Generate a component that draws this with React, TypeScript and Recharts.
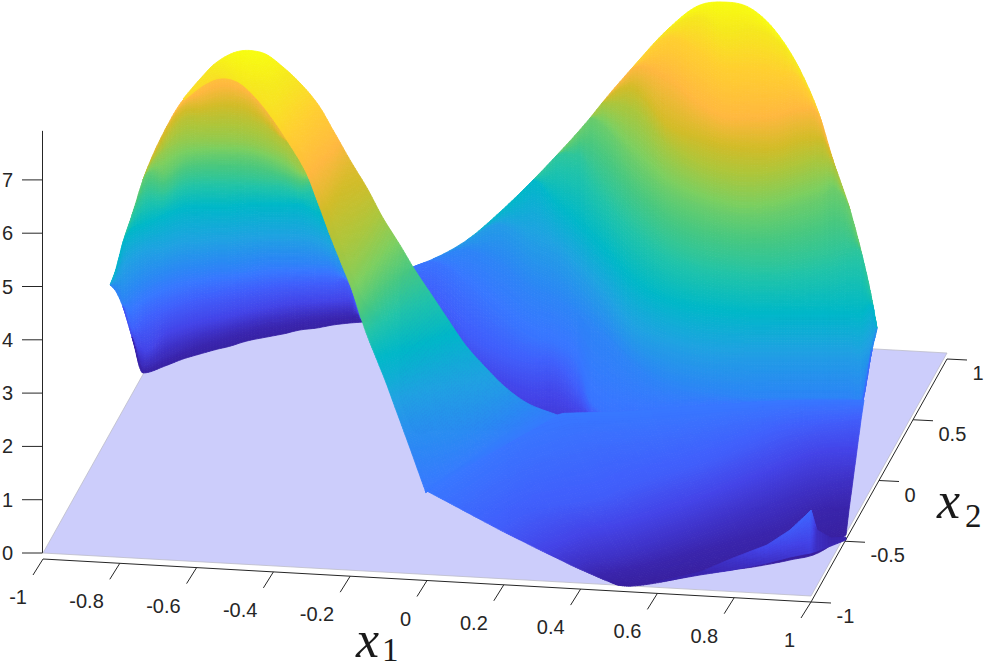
import React from 'react';
import { ScatterChart, Scatter, XAxis, YAxis, ReferenceLine } from 'recharts';

// ---------- axis ticks ----------
const x1Ticks = [-1, -0.8, -0.6, -0.4, -0.2, 0, 0.2, 0.4, 0.6, 0.8, 1];
const x2Ticks = [-1, -0.5, 0, 0.5, 1];
const zTicks = [0, 1, 2, 3, 4, 5, 6, 7];
const zTop = 7.92;

// ---------- colormap ----------
const colorStops = [0, 0.05, 0.1, 0.17, 0.25, 0.31, 0.36, 0.44, 0.53, 0.6, 0.66, 0.72, 0.78, 0.83, 0.88, 0.93, 0.97, 1];
const colorValues = ['#38209f', '#3a25ad', '#3e30c4', '#4444e8', '#4060fc', '#3878ff', '#2b88f4', '#20a2e2', '#00b8c8', '#22c4a8', '#48c880', '#7ccf60', '#acc63c', '#d2bc28', '#ffb840', '#ffd030', '#f6e81e', '#f8fc10'];

// ---------- left lobe, inner face: contour heights per column ----------
const lobeX = [110, 115, 123, 132, 143, 165, 183, 200, 218, 227, 247, 267, 283, 300, 317, 333, 350, 363, 380];
const lobeTop = [285, 272, 242, 215, 180, 130, 100, 87, 78, 78, 86, 104, 125, 150, 185, 225, 270, 300, 315];
const lobeBottom = [285, 290, 307, 337, 373, 366, 359, 354, 349, 347, 341, 337, 334, 330, 328, 325, 323, 322, 321];
const lobeLevels = [0.9, 0.85, 0.8, 0.75, 0.69, 0.63, 0.53, 0.44, 0.34, 0.25, 0.17, 0.07, 0.02];
const lobeIso = [
  [0, 0, 0, 0, 0, 0, 107, 103, 98, 97, 101, 118, 138, 0, 0, 0, 0, 0, 0],
  [0, 0, 0, 0, 0, 140, 120, 118, 117, 117, 120, 128, 140, 0, 0, 0, 0, 0, 0],
  [0, 0, 0, 0, 0, 152, 142, 140, 140, 140, 142, 148, 155, 170, 0, 0, 0, 0, 0],
  [0, 0, 0, 0, 0, 175, 162, 158, 157, 157, 158, 163, 170, 178, 0, 0, 0, 0, 0],
  [0, 0, 0, 0, 195, 192, 180, 177, 177, 177, 178, 180, 182, 188, 0, 0, 0, 0, 0],
  [0, 0, 0, 230, 225, 215, 208, 207, 207, 207, 205, 205, 205, 205, 213, 0, 0, 0, 0],
  [0, 280, 265, 258, 252, 248, 243, 242, 240, 240, 238, 237, 237, 237, 240, 250, 0, 0, 0],
  [0, 999, 305, 298, 290, 280, 275, 273, 270, 270, 268, 265, 265, 265, 266, 268, 283, 0, 0],
  [999, 999, 999, 330, 322, 310, 303, 298, 295, 293, 290, 287, 285, 284, 283, 283, 285, 999, 999],
  [999, 999, 999, 999, 350, 335, 328, 323, 319, 317, 312, 308, 305, 303, 302, 301, 300, 999, 999],
  [999, 999, 999, 999, 368, 358, 350, 343, 338, 335, 330, 325, 323, 320, 318, 316, 315, 315, 315],
];

// ---------- rear sheet with the right peak ----------
const rearX = [400, 413, 433, 467, 500, 533, 556, 578, 590, 602, 633, 667, 700, 723, 750, 777, 800, 820, 833, 850, 862, 872, 877];
const rearTop = [273, 267, 259, 240, 212, 180, 156, 132, 118, 103, 67, 30, 5, 2, 8, 33, 70, 117, 160, 210, 255, 300, 328];
const rearBottom = [400, 430, 430, 430, 430, 430, 430, 430, 428, 425, 420, 418, 415, 412, 410, 408, 407, 406, 405, 405, 404, 350, 329];
const rearLevels = [1, 0.97, 0.93, 0.88, 0.83, 0.78, 0.7, 0.62, 0.53, 0.42, 0.35, 0.3, 0.24, 0.18, 0.12, 0.08];
const rearIso = [
  [0, 0, 0, 0, 0, 0, 0, 0, 0, 0, 0, 0, 18, 32, 30, 40, 0, 0, 0, 0, 0, 0, 0],
  [0, 0, 0, 0, 0, 0, 0, 0, 0, 0, 0, 38, 52, 67, 68, 72, 80, 0, 0, 0, 0, 0, 0],
  [0, 0, 0, 0, 0, 0, 0, 0, 0, 0, 68, 78, 105, 117, 118, 116, 110, 118, 0, 0, 0, 0, 0],
  [0, 0, 0, 0, 0, 0, 0, 0, 0, 0, 88, 125, 138, 145, 148, 148, 140, 138, 0, 0, 0, 0, 0],
  [0, 0, 0, 0, 0, 0, 0, 0, 0, 0, 110, 145, 165, 172, 175, 172, 165, 160, 165, 0, 0, 0, 0],
  [0, 0, 0, 0, 0, 0, 0, 0, 0, 125, 160, 190, 205, 212, 215, 212, 205, 198, 190, 0, 0, 0, 0],
  [0, 0, 0, 0, 0, 0, 0, 155, 170, 185, 218, 245, 258, 262, 265, 265, 262, 258, 255, 250, 0, 0, 0],
  [0, 0, 0, 0, 0, 0, 203, 222, 235, 247, 280, 300, 308, 311, 313, 313, 313, 313, 313, 313, 313, 305, 0],
  [0, 0, 0, 0, 225, 245, 255, 275, 287, 300, 335, 350, 358, 360, 360, 360, 360, 360, 360, 360, 360, 345, 0],
  [0, 0, 0, 250, 265, 290, 300, 315, 325, 335, 365, 385, 392, 395, 398, 398, 398, 398, 398, 398, 397, 350, 329],
  [0, 0, 262, 285, 315, 338, 345, 365, 400, 412, 414, 412, 408, 406, 404, 403, 403, 403, 403, 403, 403, 350, 329],
  [0, 285, 300, 335, 355, 365, 368, 392, 412, 416, 999, 999, 999, 999, 999, 999, 999, 999, 999, 999, 999, 999, 999],
  [300, 310, 320, 360, 380, 392, 392, 408, 416, 418, 999, 999, 999, 999, 999, 999, 999, 999, 999, 999, 999, 999, 999],
  [330, 335, 340, 400, 420, 428, 430, 425, 424, 422, 999, 999, 999, 999, 999, 999, 999, 999, 999, 999, 999, 999, 999],
];

// ---------- lower front of the surface: six contours along its length ----------
const frontLevels = [0.31, 0.24, 0.17, 0.1, 0.04, 0];
const frontRowsX = [
  [425, 470, 510, 540, 557, 573, 620, 680, 740, 800, 864],
  [500, 525, 550, 575, 600, 620, 650, 700, 750, 800, 861],
  [540, 565, 585, 605, 620, 650, 680, 720, 770, 820, 857],
  [575, 590, 605, 620, 635, 660, 690, 730, 770, 815, 853],
  [600, 610, 620, 635, 650, 680, 710, 745, 780, 825, 849],
  [617, 625, 633, 650, 667, 700, 730, 753, 790, 820, 846],
];
const frontRowsY = [
  [490, 460, 432, 420, 415, 413, 412, 408, 404, 400, 400],
  [530, 515, 508, 503, 498, 490, 480, 465, 445, 428, 420],
  [550, 540, 532, 528, 524, 515, 505, 490, 470, 452, 450],
  [567, 562, 560, 557, 553, 545, 535, 520, 505, 488, 480],
  [578, 576, 574, 571, 568, 560, 552, 543, 533, 513, 510],
  [585, 586, 586, 584, 581, 574, 570, 567, 560, 552, 535],
];

// ---------- ridge band from the left peak: outer edge and inner edge ----------
const ridgeOuterX = [183, 200, 217, 240, 263, 283, 300, 317, 333, 350, 367, 383, 400, 413, 433, 447, 467, 485, 505, 527, 557];
const ridgeOuterY = [99, 79, 62, 51, 53, 67, 83, 103, 130, 160, 188, 218, 245, 267, 297, 318, 347, 367, 387, 403, 415];
const ridgeOuterC = [0.95, 0.96, 0.98, 1, 1, 0.98, 0.96, 0.93, 0.9, 0.85, 0.82, 0.77, 0.71, 0.66, 0.6, 0.56, 0.5, 0.46, 0.42, 0.37, 0.32];
const ridgeInnerX = [184, 205, 222, 240, 258, 275, 290, 305, 317, 330, 342, 352, 360, 367, 377, 385, 396, 407, 416, 425, 425];
const ridgeInnerY = [100, 84, 78, 83, 100, 122, 145, 170, 200, 235, 265, 290, 315, 335, 360, 380, 410, 440, 465, 490, 490];
const ridgeInnerC = [0.94, 0.95, 0.96, 0.97, 0.96, 0.95, 0.92, 0.89, 0.85, 0.8, 0.76, 0.72, 0.66, 0.6, 0.53, 0.49, 0.42, 0.37, 0.34, 0.31, 0.31];

// ---------- small wedge at the lower right ----------
const wedgeX = [660, 700, 733, 767, 790, 805, 811, 817, 831, 846];
const wedgeTop = [581, 572, 558, 545, 530, 516, 510, 530, 538, 537];
const wedgeBottom = [582, 575, 570, 563, 557, 554, 553, 551, 546, 540];
const wedgeTopC = [0.03, 0.06, 0.12, 0.19, 0.24, 0.26, 0.27, 0.1, 0.05, 0.05];
const wedgeBottomC = [0.04, 0.05, 0.08, 0.1, 0.12, 0.13, 0.14, 0.1, 0.06, 0.05];

// ---------- mesh helpers ----------
type Mesh = { xs: number[][]; ys: number[][]; cs: number[][]; s: number[]; smooth: boolean; monotone: boolean };

function chord(xs: number[], ys: number[]) {
  const s = [0];
  for (let i = 1; i < xs.length; i++) s.push(s[i - 1] + Math.max(0.5, Math.hypot(xs[i] - xs[i - 1], ys[i] - ys[i - 1])));
  return s;
}

function isoMesh(xs: number[], top: number[], bottom: number[], levels: number[], iso: number[][]): Mesh {
  const rows = [top, ...iso.map((r) => r.map((v, j) => (v === 0 ? top[j] : v === 999 ? bottom[j] : v))), bottom];
  return {
    xs: rows.map(() => xs),
    ys: rows,
    cs: rows.map((_, r) => xs.map(() => levels[r])),
    s: xs,
    smooth: true,
    monotone: true,
  };
}

const lobeMesh = isoMesh(lobeX, lobeTop, lobeBottom, lobeLevels, lobeIso);
const rearMesh = isoMesh(rearX, rearTop, rearBottom, rearLevels, rearIso);
const frontMesh: Mesh = {
  xs: frontRowsX,
  ys: frontRowsY,
  cs: frontLevels.map((c) => frontRowsX[0].map(() => c)),
  s: chord(frontRowsX[2], frontRowsY[2]),
  smooth: true,
  monotone: false,
};
const ridgeMesh: Mesh = {
  xs: [ridgeOuterX, ridgeInnerX],
  ys: [ridgeOuterY, ridgeInnerY],
  cs: [ridgeOuterC, ridgeInnerC],
  s: chord(ridgeOuterX, ridgeOuterY),
  smooth: true,
  monotone: false,
};
const wedgeMesh: Mesh = {
  xs: [wedgeX, wedgeX],
  ys: [wedgeTop, wedgeBottom],
  cs: [wedgeTopC, wedgeBottomC],
  s: wedgeX,
  smooth: false,
  monotone: false,
};

function slope(d0: number, d1: number, h0: number, h1: number) {
  if (d0 * d1 < 0 && Math.max(Math.abs(d0), Math.abs(d1)) > 1.2) return 0;
  return (h1 * d0 + h0 * d1) / (h0 + h1);
}

function spline(a: number[], s: number[], u: number, smooth: boolean) {
  const n = a.length;
  const i = Math.min(n - 2, Math.max(0, Math.floor(u)));
  const t = u - i;
  if (!smooth) return a[i] + (a[i + 1] - a[i]) * t;
  const h = s[i + 1] - s[i];
  const d = (a[i + 1] - a[i]) / h;
  const m1 = i > 0 ? slope((a[i] - a[i - 1]) / (s[i] - s[i - 1]), d, s[i] - s[i - 1], h) : d;
  const m2 = i < n - 2 ? slope(d, (a[i + 2] - a[i + 1]) / (s[i + 2] - s[i + 1]), h, s[i + 2] - s[i + 1]) : d;
  const t2 = t * t;
  const t3 = t2 * t;
  return (2 * t3 - 3 * t2 + 1) * a[i] + (t3 - 2 * t2 + t) * h * m1 + (-2 * t3 + 3 * t2) * a[i + 1] + (t3 - t2) * h * m2;
}

function columnAt(m: Mesh, u: number) {
  const x = m.xs.map((r) => spline(r, m.s, u, m.smooth));
  const y = m.ys.map((r) => spline(r, m.s, u, m.smooth));
  const c = m.cs.map((r) => spline(r, m.s, u, m.smooth));
  if (m.monotone) {
    const last = y[y.length - 1];
    let hi = y[0];
    for (let k = 0; k < y.length; k++) {
      hi = Math.max(hi, y[k]);
      y[k] = Math.min(hi, Math.max(last, y[0]));
    }
  }
  return { x, y, c };
}

function hexToRgb(h: string) {
  return [parseInt(h.slice(1, 3), 16), parseInt(h.slice(3, 5), 16), parseInt(h.slice(5, 7), 16)];
}
const colorRgb = colorValues.map(hexToRgb);
function colorOf(c: number) {
  const v = Math.max(0, Math.min(1, c));
  let i = 0;
  while (i < colorStops.length - 2 && v > colorStops[i + 1]) i++;
  const t = (v - colorStops[i]) / (colorStops[i + 1] - colorStops[i]);
  const a = colorRgb[i];
  const b = colorRgb[i + 1];
  return `rgb(${Math.round(a[0] + (b[0] - a[0]) * t)},${Math.round(a[1] + (b[1] - a[1]) * t)},${Math.round(a[2] + (b[2] - a[2]) * t)})`;
}

function meshCells(m: Mesh) {
  const out: any[] = [];
  for (let r = 0; r < m.ys.length - 1; r++) {
    for (let i = 0; i < m.xs[0].length - 1; i++) {
      out.push({ sx: m.xs[r][i], sy: m.ys[r][i], col: i, row: r });
    }
  }
  return out;
}

function meshShape(m: Mesh) {
  return (props: any) => {
    const { cx, cy, payload } = props;
    const dx = cx - payload.sx;
    const dy = cy - payload.sy;
    const { col, row } = payload;
    const extent = Math.max(
      Math.abs(m.xs[row][col + 1] - m.xs[row][col]),
      Math.abs(m.xs[row + 1][col + 1] - m.xs[row + 1][col]),
      Math.abs(m.ys[row][col + 1] - m.ys[row][col]),
      Math.abs(m.ys[row + 1][col + 1] - m.ys[row + 1][col]),
    );
    const nu = Math.max(1, Math.ceil(extent / 3));
    const cols = [];
    for (let k = 0; k <= nu; k++) cols.push(columnAt(m, col + k / nu));
    const paths: Record<string, string> = {};
    for (let k = 0; k < nu; k++) {
      const a = cols[k];
      const b = cols[k + 1];
      const h = Math.max(
        Math.hypot(a.x[row + 1] - a.x[row], a.y[row + 1] - a.y[row]),
        Math.hypot(b.x[row + 1] - b.x[row], b.y[row + 1] - b.y[row]),
      );
      if (h < 0.02) continue;
      const nv = Math.max(1, Math.ceil(h / 2.5));
      for (let j = 0; j < nv; j++) {
        const v0 = j / nv;
        const v1 = (j + 1) / nv;
        const mix = (arr: number[], v: number) => arr[row] + (arr[row + 1] - arr[row]) * v;
        const col0 = colorOf((mix(a.c, (v0 + v1) / 2) + mix(b.c, (v0 + v1) / 2)) / 2);
        const d = `M${(mix(a.x, v0) + dx).toFixed(1)} ${(mix(a.y, v0) + dy).toFixed(1)}L${(mix(b.x, v0) + dx).toFixed(1)} ${(mix(b.y, v0) + dy).toFixed(1)}L${(mix(b.x, v1) + dx).toFixed(1)} ${(mix(b.y, v1) + dy).toFixed(1)}L${(mix(a.x, v1) + dx).toFixed(1)} ${(mix(a.y, v1) + dy).toFixed(1)}Z`;
        paths[col0] = (paths[col0] || '') + d;
      }
    }
    return (
      <g>
        {Object.keys(paths).map((k) => (
          <path key={k} d={paths[k]} fill={k} stroke={k} strokeWidth={0.8} strokeLinejoin="round" />
        ))}
      </g>
    );
  };
}

// ---------- projection of the floor ----------
const project = (x1: number, x2: number) => {
  const u = (x1 + 1) / 2;
  const v = (x2 + 1) / 2;
  return { sx: 43 + 768 * u + 136 * v, sy: 553 + 43 * u - 243 * v };
};
const AXIS_DROP = 6;

const floorCorners = [project(-1, -1), project(1, -1), project(1, 1), project(-1, 1)];
const floorData = [{ ...floorCorners[0], corners: floorCorners }];
const FloorShape = (props: any) => {
  const { cx, cy, payload } = props;
  const dx = cx - payload.sx;
  const dy = cy - payload.sy;
  const pts = payload.corners.map((p: any) => `${p.sx + dx},${p.sy + dy}`).join(' ');
  return <polygon points={pts} fill="#cccdfb" stroke="#bcbcc8" strokeWidth={0.8} />;
};

const x1Axis = x1Ticks.map((t) => {
  const p = project(t, -1);
  return { value: t, sx: p.sx, sy: p.sy + AXIS_DROP };
});
const x2Axis = x2Ticks.map((t) => {
  const p = project(1, t);
  return { value: t, sx: p.sx, sy: p.sy + AXIS_DROP };
});
const x1Labels = x1Axis.map((t) => ({ sx: t.sx - 16, sy: t.sy + 38, text: String(t.value), anchor: 'end' }));
const x2Labels = x2Axis.map((t) => ({ sx: t.sx + 25.5, sy: t.sy + 14, text: String(t.value), anchor: 'start' }));

const TextShape = (props: any) => {
  const { cx, cy, payload } = props;
  return (
    <text x={cx} y={cy} dy="0.35em" textAnchor={payload.anchor} fontFamily="'Liberation Sans', Arial, sans-serif" fontSize={20} fill="#262626">
      {payload.text}
    </text>
  );
};

const axisTitles = [
  { sx: 356, sy: 657, base: 'x', sub: '1', subDx: 3, subDy: 4 },
  { sx: 937, sy: 518, base: 'x', sub: '2', subDx: 5, subDy: 9 },
];
const TitleShape = (props: any) => {
  const { cx, cy, payload } = props;
  return (
    <text x={cx} y={cy} fontFamily="'Liberation Serif', serif" fill="#1a1a1a">
      <tspan fontSize={52} fontStyle="italic">{payload.base}</tspan>
      <tspan fontSize={33} dx={payload.subDx} dy={payload.subDy}>{payload.sub}</tspan>
    </text>
  );
};

const ZTick = (props: any) => {
  const { y, payload } = props;
  return (
    <g>
      <line x1={22} x2={42.5} y1={y} y2={y} stroke="#262626" strokeWidth={1} />
      <text x={13} y={y} dy="0.35em" textAnchor="end" fontFamily="'Liberation Sans', Arial, sans-serif" fontSize={20} fill="#262626">
        {payload.value}
      </text>
    </g>
  );
};

const AXIS_COLOR = '#262626';

export default function App() {
  return (
    <div style={{ position: 'absolute', left: 0, top: 0, width: 984, height: 669, background: '#fff' }}>
      <ScatterChart width={984} height={669} margin={{ top: 0, right: 0, bottom: 0, left: 0 }}>
        <XAxis type="number" dataKey="sx" domain={[1, 984]} hide />
        <YAxis yAxisId="px" type="number" dataKey="sy" domain={[0, 669]} reversed hide />
        <YAxis
          yAxisId="z"
          type="number"
          width={1}
          domain={[-2.176, 10.375]}
          ticks={zTicks}
          interval={0}
          axisLine={false}
          tickLine={false}
          tick={<ZTick />}
          allowDataOverflow
        />

        <Scatter data={floorData} yAxisId="px" shape={FloorShape} isAnimationActive={false} />

        <ReferenceLine yAxisId="z" ifOverflow="visible" stroke={AXIS_COLOR} segment={[{ x: 42.5, y: 0 }, { x: 42.5, y: zTop }]} />
        <ReferenceLine yAxisId="px" ifOverflow="visible" stroke={AXIS_COLOR} segment={[{ x: x1Axis[0].sx, y: x1Axis[0].sy }, { x: x1Axis[10].sx, y: x1Axis[10].sy }]} />
        <ReferenceLine yAxisId="px" ifOverflow="visible" stroke={AXIS_COLOR} segment={[{ x: x2Axis[0].sx, y: x2Axis[0].sy }, { x: x2Axis[4].sx, y: x2Axis[4].sy }]} />
        {x1Axis.map((t) => (
          <ReferenceLine key={`a${t.value}`} yAxisId="px" ifOverflow="visible" stroke={AXIS_COLOR} segment={[{ x: t.sx, y: t.sy }, { x: t.sx - 10, y: t.sy + 16 }]} />
        ))}
        {x2Axis.map((t) => (
          <ReferenceLine key={`b${t.value}`} yAxisId="px" ifOverflow="visible" stroke={AXIS_COLOR} segment={[{ x: t.sx, y: t.sy }, { x: t.sx + 20, y: t.sy + 1 }]} />
        ))}

        <Scatter data={meshCells(lobeMesh)} yAxisId="px" shape={meshShape(lobeMesh)} isAnimationActive={false} />
        <Scatter data={meshCells(rearMesh)} yAxisId="px" shape={meshShape(rearMesh)} isAnimationActive={false} />
        <Scatter data={meshCells(frontMesh)} yAxisId="px" shape={meshShape(frontMesh)} isAnimationActive={false} />
        <Scatter data={meshCells(ridgeMesh)} yAxisId="px" shape={meshShape(ridgeMesh)} isAnimationActive={false} />
        <Scatter data={meshCells(wedgeMesh)} yAxisId="px" shape={meshShape(wedgeMesh)} isAnimationActive={false} />

        <Scatter data={x1Labels} yAxisId="px" shape={TextShape} isAnimationActive={false} />
        <Scatter data={x2Labels} yAxisId="px" shape={TextShape} isAnimationActive={false} />
        <Scatter data={axisTitles} yAxisId="px" shape={TitleShape} isAnimationActive={false} />
      </ScatterChart>
    </div>
  );
}
